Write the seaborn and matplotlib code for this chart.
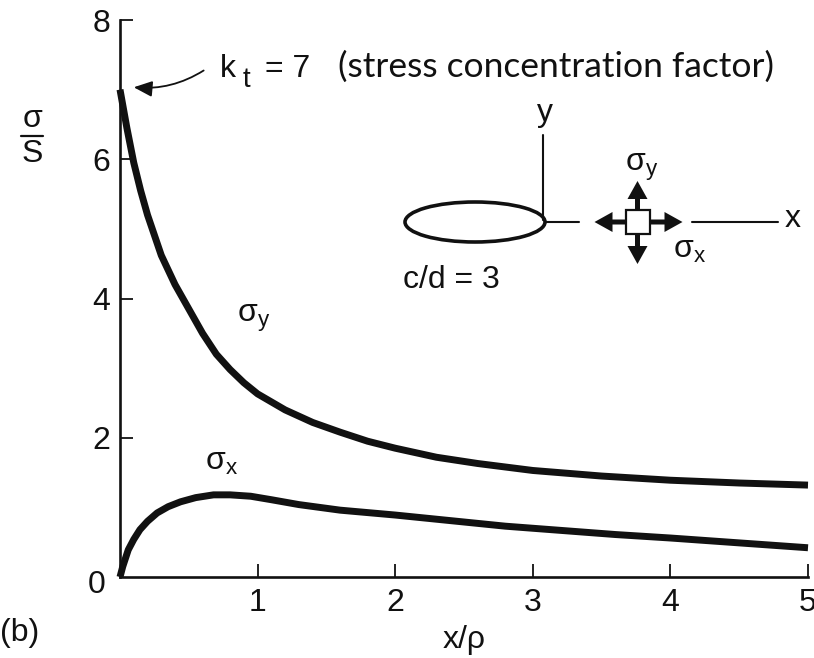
import matplotlib
matplotlib.use("Agg")
import matplotlib.pyplot as plt
import matplotlib.transforms as mtrans
from matplotlib.patches import Ellipse, Rectangle, FancyArrow, FancyArrowPatch
from matplotlib.lines import Line2D
import pandas as pd
import seaborn as sns

# Normalised stresses along the x axis ahead of an elliptical hole (c/d = 3)
x_sigma_y = [0.0, 0.05, 0.1, 0.15, 0.2, 0.3, 0.4, 0.5, 0.6, 0.7, 0.8, 0.9,
             1.0, 1.2, 1.4, 1.6, 1.8, 2.0, 2.3, 2.6, 3.0, 3.5, 4.0, 4.5, 5.0]
sigma_y = [7.0, 6.45, 5.95, 5.55, 5.2, 4.62, 4.2, 3.85, 3.5, 3.2, 2.98, 2.79,
           2.63, 2.4, 2.22, 2.08, 1.95, 1.85, 1.72, 1.63, 1.53, 1.45, 1.39,
           1.35, 1.32]

x_sigma_x = [0.0, 0.02, 0.06, 0.1, 0.145, 0.2, 0.27, 0.35, 0.44, 0.55, 0.68,
             0.8, 0.95, 1.1, 1.3, 1.6, 2.0, 2.4, 2.8, 3.2, 3.6, 4.0, 4.5, 5.0]
sigma_x = [0.0, 0.15, 0.39, 0.54, 0.68, 0.8, 0.92, 1.01, 1.08, 1.14, 1.18,
           1.18, 1.16, 1.11, 1.04, 0.96, 0.89, 0.81, 0.73, 0.67, 0.61, 0.56,
           0.49, 0.42]

x_ticks = [1, 2, 3, 4, 5]
y_ticks = [2, 4, 6, 8]
kt = 7

sns.set_style("ticks")
plt.rcParams["font.family"] = ["Liberation Sans", "DejaVu Sans"]
plt.rcParams["mathtext.fontset"] = "custom"
plt.rcParams["mathtext.rm"] = "Liberation Sans"
plt.rcParams["mathtext.it"] = "Liberation Sans"
plt.rcParams["mathtext.default"] = "regular"

W, H = 814, 658
INK = "#111111"
FS = 23

fig = plt.figure(figsize=(W / 100, H / 100), dpi=100)
ax = fig.add_axes([120 / W, 1 - 577 / H, (808 - 120) / W, (577 - 20) / H])

curves = pd.concat([
    pd.DataFrame({"x": x_sigma_y, "s": sigma_y, "comp": "sy"}),
    pd.DataFrame({"x": x_sigma_x, "s": sigma_x, "comp": "sx"}),
])
sns.lineplot(data=curves, x="x", y="s", units="comp", estimator=None,
             sort=False, color=INK, lw=5, ax=ax, legend=False)
for ln in ax.lines:
    ln.set_clip_on(False)
    ln.set_solid_capstyle("butt")
    ln.set_solid_joinstyle("round")

ax.set_xlim(0, 5)
ax.set_ylim(0, 8)
ax.set_xticks(x_ticks)
ax.set_yticks(y_ticks)
ax.tick_params(direction="in", length=9.5, width=1.3, labelsize=FS, colors=INK)
ax.tick_params(axis="x", pad=8)
ax.tick_params(axis="y", pad=7)
sns.despine(ax=ax)
for side in ("left", "bottom"):
    ax.spines[side].set_linewidth(1.9)
    ax.spines[side].set_color(INK)
ax.set_xlabel("x/ρ", fontsize=FS, color=INK, labelpad=5)
ax.set_ylabel("")

# helpers working in figure pixels (origin at the top-left corner)
ID = mtrans.IdentityTransform()


def P(px, py):
    return (px, H - py)


def text(px, py, s, **kw):
    kw.setdefault("fontsize", FS)
    kw.setdefault("color", INK)
    kw.setdefault("ha", "center")
    kw.setdefault("va", "center")
    fig.text(*P(px, py), s, transform=ID, **kw)


# shared origin label and panel tag
text(97, 585, "0")
text(20, 633, "(b)")

# vertical axis label: sigma over S
text(32, 119, "σ")
fig.add_artist(Line2D([21, 43], [H - 136, H - 136], transform=ID, color=INK, lw=1.6))
text(32, 154, "S")

# curve labels
text(254, 318, r"$σ_y$")
text(222, 462, r"$σ_x$")

# stress concentration factor callout
text(220, 77, "k", ha="left", va="baseline")
text(243, 87, "t", ha="left", va="baseline", fontsize=20)
text(265, 77, f"= {kt}", ha="left", va="baseline")
text(338, 77, "(stress concentration factor)", ha="left", va="baseline",
     fontsize=25.5, family=["Lato", "DejaVu Sans"])
fig.add_artist(FancyArrowPatch(
    P(206, 69), P(131, 87), transform=ID,
    arrowstyle="-|>,head_length=7,head_width=3",
    connectionstyle="arc3,rad=-0.18", color=INK, lw=1.3, mutation_scale=1.6))

# inset: elliptical hole with local axes and the stressed element
fig.add_artist(Ellipse(P(475, 222), 140, 40, transform=ID, fill=False,
                       ec=INK, lw=2.6))
fig.add_artist(Line2D([543, 543], [H - 135, H - 220], transform=ID, color=INK, lw=1.5))
fig.add_artist(Line2D([545, 579], [H - 222, H - 222], transform=ID, color=INK, lw=1.5))
fig.add_artist(Line2D([692, 778], [H - 222, H - 222], transform=ID, color=INK, lw=1.5))
text(545, 113, "y")
text(793, 219, "x")

cx, cy, half = 637.5, 222, 12
for dx, dy, length in [(-1, 0, 31), (1, 0, 33), (0, -1, 29), (0, 1, 30)]:
    sx = cx + dx * half
    sy = cy + dy * half
    fig.add_artist(FancyArrow(sx, H - sy, dx * length, -dy * length, transform=ID,
                              width=5, head_width=20, head_length=18,
                              length_includes_head=True, color=INK, lw=0))
fig.add_artist(Rectangle((cx - half, H - cy - half), 2 * half, 2 * half,
                         transform=ID, fc="white", ec=INK, lw=1.6, zorder=5))
text(642, 167, r"$σ_y$")
text(690, 250, r"$σ_x$")
text(451, 280, "c/d = 3")

fig.savefig("out.png", dpi=100)
